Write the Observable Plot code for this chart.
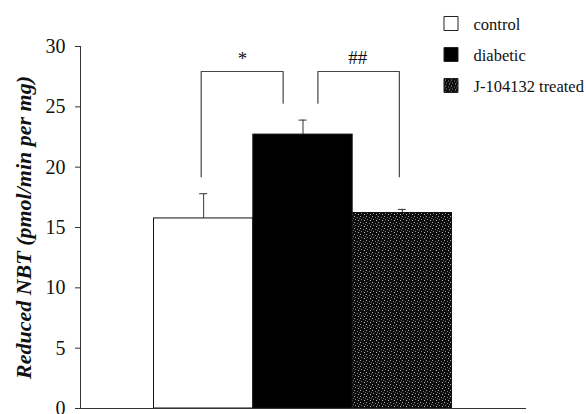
<!DOCTYPE html>
<html>
<head>
<meta charset="utf-8">
<script src="https://cdn.jsdelivr.net/npm/d3@7"></script>
<script src="https://cdn.jsdelivr.net/npm/@observablehq/plot@0.6"></script>
<style>
  body { margin: 0; background: #fff; }
  #wrap { position: relative; width: 586px; height: 414px; }
  #wrap svg, #wrap svg text { font-family: "Liberation Serif", "DejaVu Serif", "Noto Serif", serif !important; }
  #legend { position: absolute; left: 436px; top: 0px; }
</style>
</head>
<body>
<div id="wrap"><div id="legend"></div></div>
<script>
// ---- data ----
const categories = ["control", "diabetic", "J-104132 treated"];
const means = [15.75, 22.7, 16.2];
const errTops = [17.8, 23.9, 16.5];
const fills = ["#ffffff", "#000000", "url(#speck)"];
const yTicks = [0, 5, 10, 15, 20, 25, 30];
const yLabel = "Reduced NBT (pmol/min per mg)";
// significance brackets (x in bar-index units, y in data units)
const bracketStar = [[0.975, 19.2], [0.975, 27.93], [1.8, 27.93], [1.8, 25.3]];
const bracketHash = [[2.15, 25.3], [2.15, 27.93], [2.97, 27.93], [2.97, 19.2]];
const sigLabels = ["*", "##"];
const sigX = [1.39, 2.55];
const sigY = [28.95, 29.05];

const bars = categories.map((c, i) => ({cat: c, x1: i + 0.5, x2: i + 1.5, xc: i + 1, mean: means[i], top: errTops[i], fill: fills[i]}));
const sig = sigLabels.map((s, i) => ({s, x: sigX[i], y: sigY[i], size: i === 0 ? 21 : 19}));
const toPts = (arr, g) => arr.map(([x, y]) => ({x, y, g}));
const brackets = [...toPts(bracketStar, "a"), ...toPts(bracketHash, "b")];

const xDom = [-0.24, 4.25];
const capHalf = 0.04;

const svg = Plot.plot({
  width: 586,
  height: 414,
  marginLeft: 80,
  marginRight: 60,
  marginTop: 46,
  marginBottom: 6,
  style: {background: "#fff", color: "#111"},
  x: {type: "linear", domain: xDom, axis: null},
  y: {domain: [0, 30], axis: null},
  marks: [
    Plot.rectY(bars, {x1: "x1", x2: "x2", y1: 0, y2: "mean", fill: d => d.fill, stroke: "#111", strokeWidth: 1}),
    Plot.ruleX(bars, {x: "xc", y1: "mean", y2: "top", stroke: "#333", strokeWidth: 1}),
    Plot.ruleY(bars, {y: "top", x1: d => d.xc - capHalf, x2: d => d.xc + capHalf, stroke: "#333", strokeWidth: 1}),
    Plot.line(brackets, {x: "x", y: "y", z: "g", stroke: "#444", strokeWidth: 1.2}),
    Plot.text(sig, {x: "x", y: "y", text: "s", fontSize: 19, fill: "#111"}),
    Plot.axisY({ticks: yTicks, tickSize: 5, tickPadding: 10, fontSize: 20, label: null, stroke: "#333"}),
    Plot.ruleX([xDom[0]], {y1: 0, y2: 30, stroke: "#333", strokeWidth: 1}),
    Plot.ruleY([0], {stroke: "#333", strokeWidth: 1.2}),
    Plot.text([yLabel], {frameAnchor: "left", textAnchor: "middle", rotate: -90, dx: -57, fontSize: 22, fontWeight: "bold", fontStyle: "italic", fill: "#111"})
  ]
});

// speckled pattern for the treated bar
const ns = "http://www.w3.org/2000/svg";
const defs = document.createElementNS(ns, "defs");
const pat = document.createElementNS(ns, "pattern");
pat.setAttribute("id", "speck");
pat.setAttribute("width", "6");
pat.setAttribute("height", "6");
pat.setAttribute("patternUnits", "userSpaceOnUse");
const bg = document.createElementNS(ns, "rect");
bg.setAttribute("width", "6"); bg.setAttribute("height", "6"); bg.setAttribute("fill", "#0d0d0d");
pat.appendChild(bg);
[[0,0,"#aaa"],[3,1,"#777"],[1,3,"#888"],[4,4,"#bbb"],[5,2,"#666"]].forEach(([x, y, c]) => {
  const r = document.createElementNS(ns, "rect");
  r.setAttribute("x", x); r.setAttribute("y", y); r.setAttribute("width", 1); r.setAttribute("height", 1); r.setAttribute("fill", c);
  pat.appendChild(r);
});
defs.appendChild(pat);
svg.insertBefore(defs, svg.firstChild);

const wrap = document.getElementById("wrap");
wrap.insertBefore(svg, wrap.firstChild);

// legend (a small separate Plot)
const legendData = categories.map((c, i) => ({c, fill: fills[i]}));
const legend = Plot.plot({
  width: 150,
  height: 105,
  margin: 0,
  style: {background: "transparent", color: "#111"},
  x: {axis: null},
  y: {type: "point", domain: categories, range: [22.5, 85.5], padding: 0, axis: null},
  marks: [
    Plot.dot(legendData, {y: "c", frameAnchor: "left", dx: 14.5, symbol: "square", r: 7.9, fill: d => d.fill, stroke: "#222", strokeWidth: 1}),
    Plot.text(legendData, {y: "c", text: "c", frameAnchor: "left", dx: 37, dy: 1, textAnchor: "start", fontSize: 16.5, fill: "#111"})
  ]
});
document.getElementById("legend").appendChild(legend);
</script>
</body>
</html>
